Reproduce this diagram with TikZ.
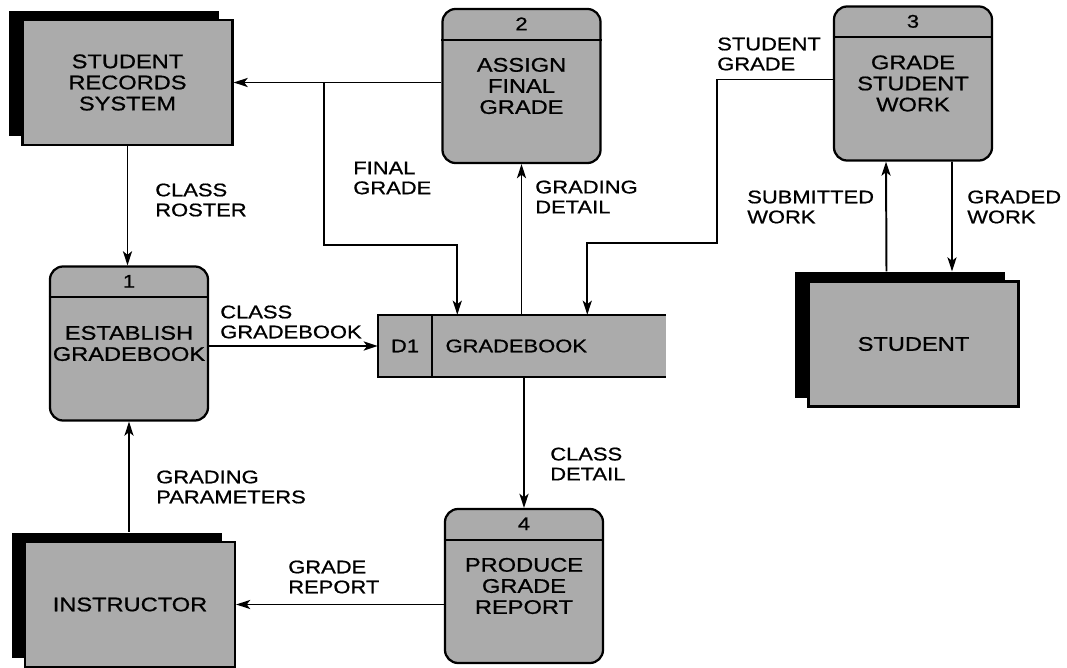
\documentclass[tikz,border=0pt]{standalone}
\usepackage{fontspec}
\setmainfont{Liberation Sans}[FakeStretch=1.2,FakeBold=0.8]
\usetikzlibrary{arrows.meta,calc,positioning,shadows}

\begin{document}
\begin{tikzpicture}[x=0.025cm,y=-0.025cm,>={Stealth[length=10pt,width=6.5pt,inset=2.5pt]},
  proc/.style={draw,line width=1.6pt,fill=black!33,rounded corners=0.33cm,minimum width=3.95cm,minimum height=3.85cm,align=center,inner sep=0pt,font=\fontsize{14}{15}\selectfont},
  procnum/.style={inner sep=0pt,font=\fontsize{13}{14}\selectfont},
  entity/.style={draw,line width=1.6pt,fill=black!33,minimum width=5.25cm,minimum height=3.125cm,align=center,inner sep=0pt,font=\fontsize{14}{15}\selectfont,general shadow={fill=black,shadow xshift=-0.33cm,shadow yshift=0.225cm}},
  storeid/.style={fill=black!33,minimum width=1.35cm,minimum height=1.55cm,inner sep=0pt,font=\fontsize{13}{14}\selectfont},
  storename/.style={fill=black!33,minimum height=1.55cm,text width=5.175cm,inner xsep=0.325cm,inner ysep=0pt,align=left,font=\fontsize{13}{14}\selectfont},
  flowlabel/.style={anchor=west,align=left,inner sep=0pt,font=\fontsize{13}{14.2}\selectfont},
  flow/.style={->,line width=1.4pt}]
\useasboundingbox (0,0) rectangle (1067,668);

% external entities
\node[entity] (srs) at (127.5,82.5) {STUDENT\\RECORDS\\SYSTEM};
\node[entity] (stu) at (913.5,344) {STUDENT};
\node[entity] (ins) at (130,604.5) {INSTRUCTOR};

% processes
\node[proc] (p1) at (129,343.5) {ESTABLISH\\GRADEBOOK};
\node[proc] (p2) at (521.5,86) {ASSIGN\\FINAL\\GRADE};
\node[proc] (p3) at (913,83.5) {GRADE\\STUDENT\\WORK};
\node[proc] (p4) at (524,586) {PRODUCE\\GRADE\\REPORT};
\foreach \p/\n in {p1/1,p2/2,p3/3,p4/4} {
  \draw[line width=1.3pt] ($(\p.north west)+(0,32)$) -- ($(\p.north east)+(0,32)$);
  \node[procnum] (\p num) at ($(\p.north)+(0,16)$) {\n};
}

% data store
\node[storeid] (d1) at (405,346) {D1};
\node[storename,right=0pt of d1] (gb) {GRADEBOOK};
\draw[line width=1.5pt] (gb.north east) -- (d1.north west) -- (d1.south west) -- (gb.south east);
\draw[line width=1.5pt] (d1.north east) -- (d1.south east);

% flows
\draw[flow] (srs.south) -- (srs.south |- p1.north);
\draw[flow] (p2.west |- srs.east) -- (srs.east);
\coordinate (fgsplit) at (324,82.5);
\draw[flow] (fgsplit) |- ($(gb.north west)+(25,-70)$) -- ($(gb.north west)+(25,0)$);
\draw[flow] (p2 |- d1.north) -- (p2.south);
\draw[flow] ($(p3.west)+(0,-4)$) -| (717,243) -| ($(gb.north west)+(155,0)$);
\draw[flow] ($(stu.north)+(-27,-9)$) -- ($(p3.south)+(-27,0)$);
\draw[flow] ($(p3.south)+(39,0)$) -- ($(stu.north)+(38.5,-9)$);
\draw[flow] (p1.east |- d1.west) -- (d1.west);
\draw[flow] (p4 |- gb.south) -- (p4.north);
\draw[flow] (p4.west |- ins.east) -- (ins.east);
\draw[flow] ($(p1 |- ins.north)+(0,-9)$) -- (p1.south);

% flow labels
\node[flowlabel] (lroster) at (155,200) {CLASS\\ROSTER};
\node[flowlabel] (lfinal) at (353,178) {FINAL\\GRADE};
\node[flowlabel] (ldetail) at (535,197) {GRADING\\DETAIL};
\node[flowlabel] (lsgrade) at (717,54) {STUDENT\\GRADE};
\node[flowlabel] (lsubmit) at (747,207) {SUBMITTED\\WORK};
\node[flowlabel] (lgraded) at (967,207) {GRADED\\WORK};
\node[flowlabel] (lgbook) at (220,322) {CLASS\\GRADEBOOK};
\node[flowlabel] (lcdetail) at (550,464) {CLASS\\DETAIL};
\node[flowlabel] (lparam) at (156,487) {GRADING\\PARAMETERS};
\node[flowlabel] (lreport) at (288,577) {GRADE\\REPORT};
\end{tikzpicture}
\end{document}
